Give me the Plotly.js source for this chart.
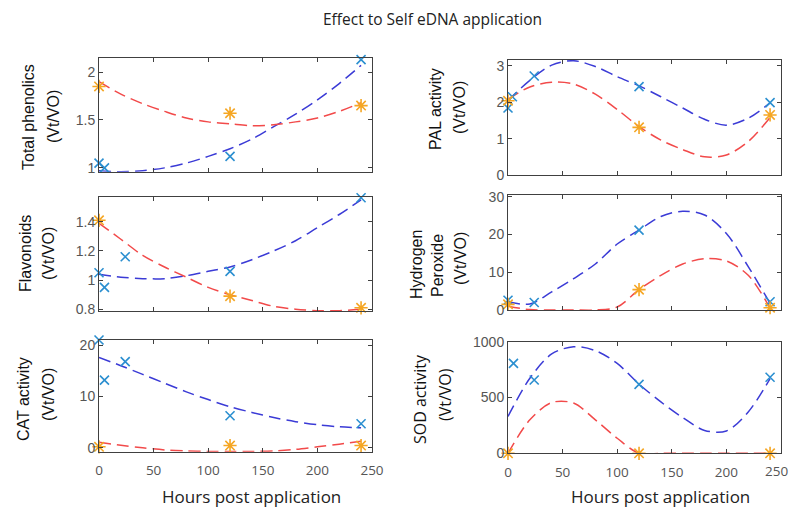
<!DOCTYPE html>
<html><head><meta charset="utf-8">
<script src="https://cdn.plot.ly/plotly-3.0.1.min.js"></script>
<style>html,body{margin:0;padding:0;background:#fff;overflow:hidden}#chart{width:793px;height:510px}</style>
</head><body><div id="chart"></div>
<script>
// ---- data ----
const CURVE_T = [0, 20, 40, 60, 80, 100, 120, 140, 160, 180, 200, 220, 240];
const TREAT_T = [0, 120, 240];
const X_TICKS = [0, 50, 100, 150, 200, 250];

// Total phenolics
const phen_meas_t = [0, 5, 24, 120, 240];
const phen_meas   = [1.05, 1.0, 0.95, 1.12, 2.13];
const phen_treat  = [1.85, 1.57, 1.65];
const phen_fitB   = [0.97, 0.96, 0.97, 1.0, 1.05, 1.12, 1.2, 1.3, 1.43, 1.56, 1.71, 1.88, 2.07];
const phen_fitR   = [1.9, 1.77, 1.67, 1.59, 1.52, 1.48, 1.46, 1.44, 1.45, 1.48, 1.52, 1.59, 1.68];

// PAL activity
const pal_meas_t = [0, 4, 24, 120, 240];
const pal_meas   = [1.84, 2.15, 2.72, 2.43, 1.99];
const pal_treat  = [2.04, 1.31, 1.65];
const pal_fitB   = [2.05, 2.6, 3.02, 3.14, 2.98, 2.7, 2.45, 2.15, 1.84, 1.53, 1.37, 1.56, 1.98];
const pal_fitR   = [2.08, 2.42, 2.55, 2.5, 2.22, 1.8, 1.33, 0.96, 0.7, 0.5, 0.55, 0.92, 1.58];

// Flavonoids
const flav_meas_t = [0, 5, 24, 120, 240];
const flav_meas   = [1.05, 0.95, 1.16, 1.06, 1.565];
const flav_treat  = [1.41, 0.89, 0.81];
const flav_fitB   = [1.04, 1.02, 1.01, 1.01, 1.03, 1.06, 1.09, 1.14, 1.2, 1.27, 1.36, 1.45, 1.55];
const flav_fitR   = [1.39, 1.28, 1.17, 1.09, 1.02, 0.95, 0.9, 0.86, 0.82, 0.8, 0.79, 0.79, 0.8];

// Hydrogen Peroxide
const h2o2_meas_t = [0, 24, 120, 240];
const h2o2_meas   = [2.6, 2.0, 21.2, 2.2];
const h2o2_treat  = [1.5, 5.4, 0.6];
const h2o2_fitB   = [2.2, 1.6, 4.8, 8.3, 12.2, 17.5, 21.2, 24.8, 26.2, 25.2, 20.3, 11.5, 1.8];
const h2o2_fitR   = [1.0, 0.1, 0, 0, 0, 0.8, 5.4, 9.2, 12.2, 13.6, 13.0, 9.2, 0.5];

// CAT activity
const cat_meas_t = [0, 5, 24, 120, 240];
const cat_meas   = [21.0, 13.2, 16.8, 6.25, 4.7];
const cat_treat  = [0.2, 0.45, 0.45];
const cat_fitB   = [17.6, 16.0, 14.3, 12.6, 10.9, 9.4, 8.0, 6.9, 5.9, 5.1, 4.5, 4.1, 3.9];
const cat_fitR   = [1.1, 0.5, 0.0, -0.4, -0.6, -0.7, -0.7, -0.7, -0.6, -0.3, 0.2, 0.7, 1.3];

// SOD activity
const sod_meas_t = [5, 24, 120, 240];
const sod_meas   = [806, 657, 618, 681];
const sod_treat  = [0, 0, 0];
const sod_fitB   = [330, 672, 890, 955, 920, 805, 620, 460, 320, 205, 200, 370, 670];
const sod_fitR   = [0, 300, 455, 450, 300, 135, 0, 0, 0, 0, 0, 0, 0];

const Y_LABELS = [
  ["Total phenolics", "(Vt/VO)"],
  ["PAL activity", "(Vt/VO)"],
  ["Flavonoids", "(Vt/VO)"],
  ["Hydrogen", "Peroxide", "(Vt/VO)"],
  ["CAT activity", "(Vt/VO)"],
  ["SOD activity", "(Vt/VO)"]
];
const TITLE = "Effect to Self eDNA application";
const X_TITLE = "Hours post application";

// ---- layout geometry (pixels of the 793x510 page) ----
const W = 793, H = 510;
const panels = [
  {mt: phen_meas_t, m: phen_meas, t: phen_treat, fb: phen_fitB, fr: phen_fitR, x: [99, 372], y: [57.7, 171.7], r: [0.96, 2.15], d: 0.5},
  {mt: pal_meas_t, m: pal_meas, t: pal_treat, fb: pal_fitB, fr: pal_fitR, x: [508, 781], y: [60, 175], r: [0, 3.16], d: 1},
  {mt: flav_meas_t, m: flav_meas, t: flav_treat, fb: flav_fitB, fr: flav_fitR, x: [99, 372], y: [196.7, 311], r: [0.788, 1.572], d: 0.2},
  {mt: h2o2_meas_t, m: h2o2_meas, t: h2o2_treat, fb: h2o2_fitB, fr: h2o2_fitR, x: [508, 781], y: [195, 310], r: [0, 30.5], d: 10},
  {mt: cat_meas_t, m: cat_meas, t: cat_treat, fb: cat_fitB, fr: cat_fitR, x: [99, 372], y: [340, 451.7], r: [-0.75, 21], d: 10},
  {mt: sod_meas_t, m: sod_meas, t: sod_treat, fb: sod_fitB, fr: sod_fitR, x: [508, 781], y: [341.7, 453.3], r: [0, 1000], d: 500}
];
// label positions [x, y] per line, pixels
const labelPos = [
  [[29, 117], [54, 117]],
  [[435, 109], [459, 108]],
  [[25, 254], [48, 254]],
  [[416, 265], [437, 266], [460, 259]],
  [[23, 399], [48, 395]],
  [[420, 399], [445, 394]]
];

const BLUE_LINE = '#3b3bd6', RED_LINE = '#f24a4a', BLUE_MK = '#2b8fd0', ORANGE_MK = '#f5a623';
const DASH = '12px,6px';
const TICK_FONT_X = {family: 'Open Sans, sans-serif', size: 13.5, color: '#555'};

const data = [];
const layout = {
  width: W, height: H, margin: {l: 0, r: 0, t: 0, b: 0},
  paper_bgcolor: '#fff', plot_bgcolor: '#fff', showlegend: false,
  annotations: []
};

panels.forEach((p, i) => {
  const n = i + 1;
  const xa = 'x' + (n === 1 ? '' : n), ya = 'y' + (n === 1 ? '' : n);
  data.push({x: CURVE_T, y: p.fb, xaxis: xa, yaxis: ya, mode: 'lines', line: {color: BLUE_LINE, width: 1.5, dash: DASH, shape: 'spline', smoothing: 0.9}, hoverinfo: 'skip'});
  data.push({x: CURVE_T, y: p.fr, xaxis: xa, yaxis: ya, mode: 'lines', line: {color: RED_LINE, width: 1.5, dash: DASH, shape: 'spline', smoothing: 0.9}, hoverinfo: 'skip'});
  data.push({x: p.mt, y: p.m, xaxis: xa, yaxis: ya, mode: 'markers', cliponaxis: false,
    marker: {symbol: 'x-thin-open', size: 9, color: BLUE_MK, line: {width: 1.6, color: BLUE_MK}}});
  data.push({x: TREAT_T, y: p.t, xaxis: xa, yaxis: ya, mode: 'markers', cliponaxis: false,
    marker: {symbol: 'asterisk-open', size: 11, color: ORANGE_MK, line: {width: 1.6, color: ORANGE_MK}}});

  const bottom = i >= 4;
  const rightEdge = (i === 5);
  // the last "250" of the right panel sits at the page edge, where Plotly drops it; it is added below as axis-referenced text
  const tv = rightEdge ? X_TICKS.slice(0, -1) : X_TICKS;
  layout['xaxis' + (n === 1 ? '' : n)] = {
    domain: [p.x[0] / W, p.x[1] / W], range: [-0.01, 250.01], anchor: ya,
    tickmode: 'array', tickvals: tv, ticktext: tv.map(String),
    ticks: 'inside', ticklen: 4, tickcolor: '#404040', ticklabelstandoff: 6,
    showline: true, linecolor: '#404040', linewidth: 1, mirror: 'ticks',
    showgrid: false, zeroline: false, showticklabels: bottom,
    tickfont: TICK_FONT_X
  };
  layout['yaxis' + (n === 1 ? '' : n)] = {
    domain: [1 - p.y[1] / H, 1 - p.y[0] / H], range: p.r, anchor: xa,
    dtick: p.d, tick0: 0, ticks: 'inside', ticklen: 4, tickcolor: '#404040',
    showline: true, linecolor: '#404040', linewidth: 1, mirror: 'ticks',
    showgrid: false, zeroline: false,
    tickfont: {family: 'Liberation Sans, Arial, sans-serif', size: 14, color: '#555'}
  };
  if (rightEdge) {
    const last = X_TICKS[X_TICKS.length - 1];
    layout.annotations.push({text: String(last), xref: xa, yref: 'paper', x: last, y: 1 - 471 / H,
      xanchor: 'center', yanchor: 'middle', xshift: -4, showarrow: false, font: TICK_FONT_X});
  }
  Y_LABELS[i].forEach((txt, k) => {
    const pos = labelPos[i][k];
    layout.annotations.push({
      text: txt, xref: 'paper', yref: 'paper', x: pos[0] / W, y: 1 - pos[1] / H,
      xanchor: 'center', yanchor: 'middle', textangle: -90, showarrow: false,
      font: {family: (i === 5 ? 'Open Sans, sans-serif' : 'Liberation Sans, Arial, sans-serif'), size: 16, color: '#111'}
    });
  });
});

layout.annotations.push({text: TITLE, xref: 'paper', yref: 'paper', x: 432 / W, y: 1 - 19 / H,
  xanchor: 'center', yanchor: 'middle', showarrow: false,
  font: {family: 'Open Sans, sans-serif', size: 15.5, color: '#222'}});
[251, 660].forEach(cx => layout.annotations.push({text: X_TITLE, xref: 'paper', yref: 'paper', x: cx / W, y: 1 - 496 / H,
  xanchor: 'center', yanchor: 'middle', showarrow: false,
  font: {family: 'Open Sans, sans-serif', size: 17, color: '#222'}}));

Plotly.newPlot('chart', data, layout, {staticPlot: true, displayModeBar: false});
</script></body></html>
